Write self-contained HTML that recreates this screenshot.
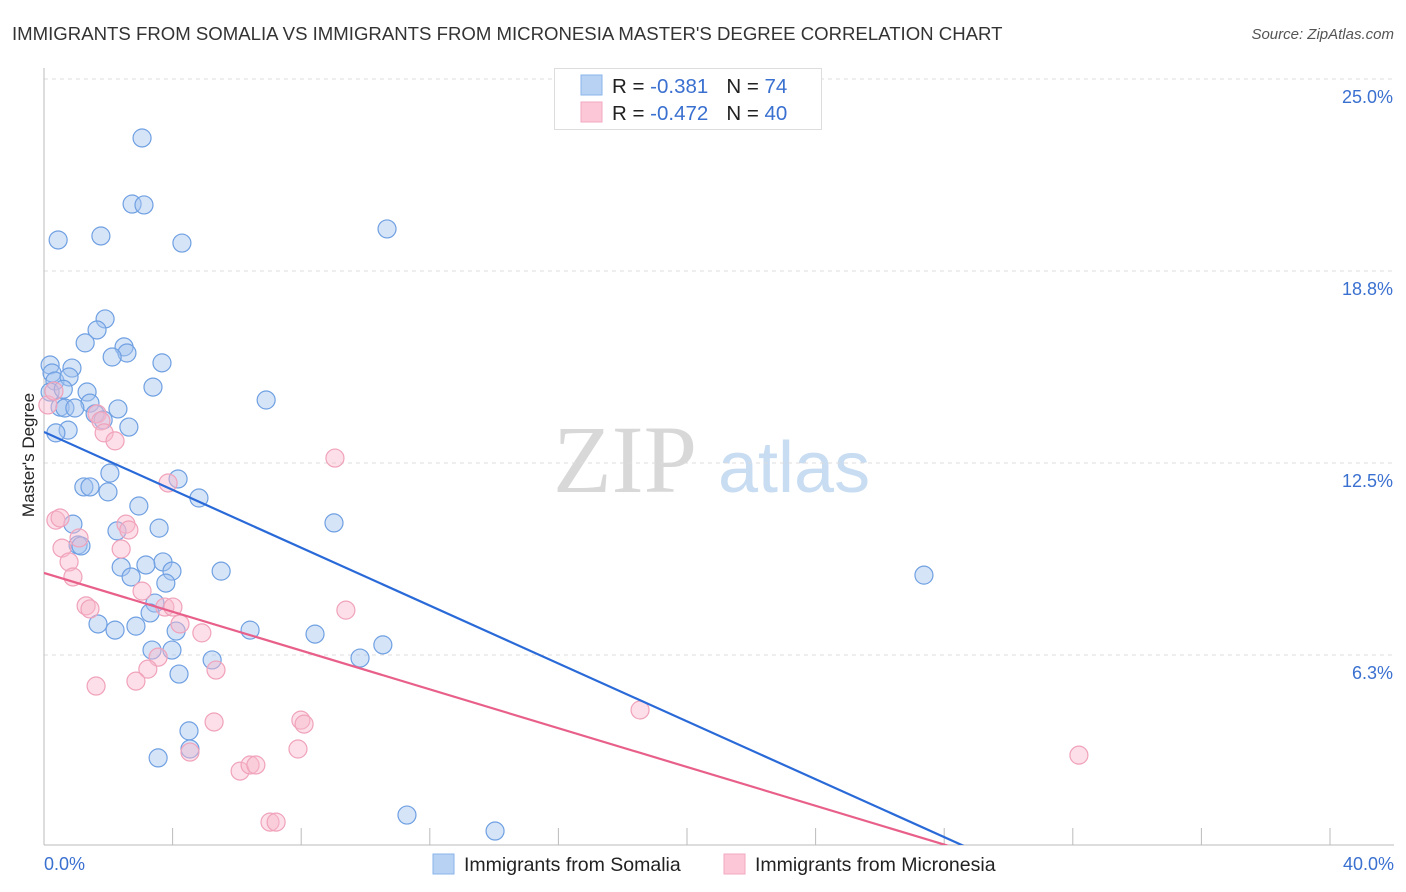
<!DOCTYPE html>
<html><head><meta charset="utf-8"><style>
html,body{margin:0;padding:0;background:#fff;font-family:"Liberation Sans",sans-serif;width:1406px;height:892px;overflow:hidden;}
svg{display:block}
</style></head><body>
<svg id="chart" width="1406" height="892" xmlns="http://www.w3.org/2000/svg">
<text x="12" y="40" font-size="18.6" fill="#333">IMMIGRANTS FROM SOMALIA VS IMMIGRANTS FROM MICRONESIA MASTER'S DEGREE CORRELATION CHART</text>
<text x="1394" y="39" font-size="15" fill="#555" font-style="italic" text-anchor="end">Source: ZipAtlas.com</text>
<g>
<text x="553" y="492" font-size="96" font-family="Liberation Serif,serif" fill="#d8d8d8">ZIP</text>
<text x="718" y="492" font-size="72" fill="#c8dcf2">atlas</text>
</g>
<g id="grid"></g>
<g id="axes"></g>
<text transform="translate(34,455) rotate(-90)" font-size="17" fill="#222" text-anchor="middle">Master's Degree</text>
<defs><clipPath id="plotclip"><rect x="44" y="60" width="1350" height="785"/></clipPath></defs>
<g id="points"></g>
<g id="lines" clip-path="url(#plotclip)"></g>
<g>
<rect x="554.5" y="68.5" width="267" height="61" fill="#fff" stroke="#ddd"/>
<rect x="581" y="75" width="21" height="20" fill="#b8d2f4" stroke="#8ab4ea"/>
<rect x="581" y="102" width="21" height="20" fill="#fcc8d8" stroke="#f2a8c0"/>
<text x="612" y="93" font-size="20.5" fill="#222">R = <tspan fill="#3a70d0"> -0.381</tspan><tspan dx="18">N = </tspan><tspan fill="#3a70d0"> 74</tspan></text>
<text x="612" y="120" font-size="20.5" fill="#222">R = <tspan fill="#3a70d0">-0.472</tspan><tspan dx="18">N = </tspan><tspan fill="#3a70d0">40</tspan></text>
</g>
<g>
<rect x="433" y="854" width="21" height="20" fill="#b8d2f4" stroke="#8ab4ea"/>
<text x="464" y="871" font-size="19.5" fill="#222">Immigrants from Somalia</text>
<rect x="724" y="854" width="21" height="20" fill="#fcc8d8" stroke="#f2a8c0"/>
<text x="755" y="871" font-size="19.5" fill="#222">Immigrants from Micronesia</text>
</g>
</svg>
<script>
const xTicks=[0,4,8,12,16,20,24,28,32,36,40];
const yTicks=[6.25,12.5,18.75,25];
const yTickLabels=["6.3%","12.5%","18.8%","25.0%"];
const xEndLabels=["0.0%","40.0%"];
const somaliaX=[3.05,2.74,3.11,0.44,1.77,4.29,10.67,1.90,1.65,1.28,2.49,2.58,2.12,3.67,0.19,0.87,0.25,0.34,0.78,3.39,1.34,0.19,6.91,1.43,0.50,0.65,0.96,2.30,1.59,1.84,2.64,0.75,0.37,2.05,4.17,1.24,1.43,1.99,4.82,2.95,9.02,0.90,3.58,2.27,1.06,1.15,3.70,3.17,2.40,3.98,5.51,27.37,2.71,3.79,3.45,3.30,1.68,2.86,2.21,6.41,4.11,8.43,10.54,3.36,3.98,5.23,9.83,4.20,4.51,3.55,4.54,11.29,14.03,0.6];
const somaliaY=[23.08,20.93,20.90,19.76,19.89,19.66,20.12,17.19,16.83,16.41,16.28,16.08,15.95,15.76,15.69,15.59,15.43,15.17,15.30,14.97,14.81,14.81,14.55,14.45,14.32,14.29,14.29,14.26,14.10,13.90,13.67,13.57,13.48,12.17,11.98,11.72,11.72,11.56,11.36,11.10,10.55,10.51,10.38,10.29,9.83,9.80,9.28,9.18,9.11,8.98,8.98,8.85,8.79,8.59,7.94,7.62,7.26,7.19,7.06,7.06,7.03,6.93,6.58,6.41,6.41,6.09,6.15,5.63,3.78,2.90,3.19,1.04,0.52,14.9];
const micronesiaX=[0.12,0.31,1.65,1.77,1.87,2.21,0.37,0.50,2.55,2.64,1.09,0.56,2.40,0.78,3.86,9.05,0.90,3.05,1.31,1.43,3.76,4.01,9.39,4.23,4.91,3.55,3.23,5.35,2.86,1.62,5.29,7.99,8.09,18.54,7.90,4.54,6.10,6.41,6.59,32.19,7.03,7.22];
const micronesiaY=[14.39,14.84,14.10,13.87,13.48,13.22,10.64,10.71,10.51,10.32,10.06,9.73,9.70,9.28,11.85,12.66,8.79,8.33,7.85,7.75,7.81,7.81,7.71,7.26,6.97,6.18,5.79,5.76,5.40,5.24,4.07,4.13,4.00,4.46,3.19,3.09,2.47,2.67,2.67,2.99,0.81,0.81];
const somaliaTrend=[13.51,-5.33];
const micronesiaTrend=[8.92,-3.71];
const NS="http://www.w3.org/2000/svg";
function sx(v){return 44+v/40*1286;}
function sy(v){return 847-v/25*768;}
function mk(tag,attrs,parent){const e=document.createElementNS(NS,tag);for(const k in attrs)e.setAttribute(k,attrs[k]);parent.appendChild(e);return e;}
const grid=document.getElementById('grid'),axes=document.getElementById('axes'),pts=document.getElementById('points'),lines=document.getElementById('lines');
yTicks.forEach((t,i)=>{
 const l=mk('line',{x1:44,x2:1394,y1:sy(t),y2:sy(t),stroke:'#ddd','stroke-dasharray':'4,4'},grid);
 
 
 const tx=mk('text',{x:1393,y:sy(t)+24,'font-size':18,fill:'#3a70d0','text-anchor':'end'},axes);
 tx.textContent=yTickLabels[i];
 
 
});
const yl=mk('line',{x1:44,x2:44,y1:68,y2:845,stroke:'#bbb'},axes);


const xl=mk('line',{x1:44,x2:1394,y1:845,y2:845,stroke:'#bbb'},axes);


xTicks.forEach(t=>{
 const l=mk('line',{x1:sx(t),x2:sx(t),y1:828,y2:845,stroke:'#bbb'},axes);
 
 
});
[[0,'start',44],[1,'end',1394]].forEach(([i,a,x])=>{
 const tx=mk('text',{x:x,y:870,'font-size':18,fill:'#3a70d0','text-anchor':a},axes);
 tx.textContent=xEndLabels[i];
 
 
});
somaliaX.forEach((x,i)=>{
 const c=mk('circle',{cx:sx(x),cy:sy(somaliaY[i]),r:9,fill:'rgba(164,196,240,0.45)',stroke:'#6fa0e2','stroke-width':1.2},pts);
 
 
});
micronesiaX.forEach((x,i)=>{
 const c=mk('circle',{cx:sx(x),cy:sy(micronesiaY[i]),r:9,fill:'rgba(248,184,204,0.45)',stroke:'#f0a2ba','stroke-width':1.2},pts);
 
 
});
const l1=mk('line',{x1:sx(0),y1:sy(somaliaTrend[0]),x2:sx(40),y2:sy(somaliaTrend[1]),stroke:'#2a6ad8','stroke-width':2.2},lines);


const l2=mk('line',{x1:sx(0),y1:sy(micronesiaTrend[0]),x2:sx(40),y2:sy(micronesiaTrend[1]),stroke:'#e8608a','stroke-width':2.2},lines);


</script>
</body></html>
